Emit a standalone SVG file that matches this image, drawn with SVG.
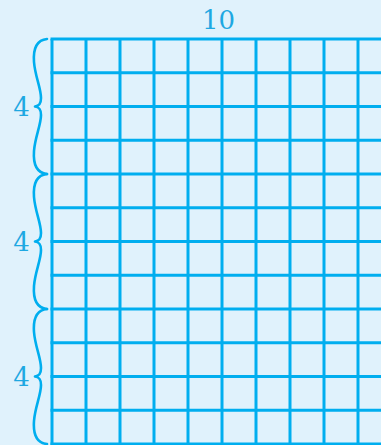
<svg xmlns="http://www.w3.org/2000/svg" width="381" height="445" viewBox="0 0 381 445">
<style>
.grid line{stroke:#00aeef;stroke-width:3}
.brace{fill:none;stroke:#00aeef;stroke-width:2.6;stroke-linecap:round;stroke-linejoin:round}
.lbl{font-family:"DejaVu Serif",serif;font-size:26px;fill:#1ea8e2;text-anchor:middle}
</style>
<rect width="381" height="445" fill="#e0f2fc"/>
<g id="grid" class="grid">
<line x1="52" y1="39" x2="52" y2="445"/>
<line x1="86" y1="39" x2="86" y2="445"/>
<line x1="120" y1="39" x2="120" y2="445"/>
<line x1="154" y1="39" x2="154" y2="445"/>
<line x1="188" y1="39" x2="188" y2="445"/>
<line x1="222" y1="39" x2="222" y2="445"/>
<line x1="256" y1="39" x2="256" y2="445"/>
<line x1="290" y1="39" x2="290" y2="445"/>
<line x1="324" y1="39" x2="324" y2="445"/>
<line x1="358" y1="39" x2="358" y2="445"/>
<line x1="50.5" y1="39" x2="381" y2="39"/>
<line x1="50.5" y1="72.75" x2="381" y2="72.75"/>
<line x1="50.5" y1="106.5" x2="381" y2="106.5"/>
<line x1="50.5" y1="140.25" x2="381" y2="140.25"/>
<line x1="50.5" y1="174" x2="381" y2="174"/>
<line x1="50.5" y1="207.75" x2="381" y2="207.75"/>
<line x1="50.5" y1="241.5" x2="381" y2="241.5"/>
<line x1="50.5" y1="275.25" x2="381" y2="275.25"/>
<line x1="50.5" y1="309" x2="381" y2="309"/>
<line x1="50.5" y1="342.75" x2="381" y2="342.75"/>
<line x1="50.5" y1="376.5" x2="381" y2="376.5"/>
<line x1="50.5" y1="410.25" x2="381" y2="410.25"/>
<line x1="50.5" y1="444" x2="381" y2="444"/>
</g>
<g id="braces">
<path class="brace" d="M47,39 C37,40 33,48 34,62 C35,76 41,88 41,98 C41,104 39,106 35,106.5 C39,107 41,109 41,115 C41,125 35,137 34,151 C33,165 37,173 47,174"/>
<path class="brace" d="M47,174 C37,175 33,183 34,197 C35,211 41,223 41,233 C41,239 39,241 35,241.5 C39,242 41,244 41,250 C41,260 35,272 34,286 C33,300 37,308 47,309"/>
<path class="brace" d="M47,309 C37,310 33,318 34,332 C35,346 41,358 41,368 C41,374 39,376 35,376.5 C39,377 41,379 41,385 C41,395 35,407 34,421 C33,435 37,443 47,444"/>
</g>
<g id="labels">
<text class="lbl" x="218.5" y="29.3">10</text>
<text class="lbl" x="21.5" y="116">4</text>
<text class="lbl" x="21.5" y="251">4</text>
<text class="lbl" x="21.5" y="386">4</text>
</g>
</svg>
